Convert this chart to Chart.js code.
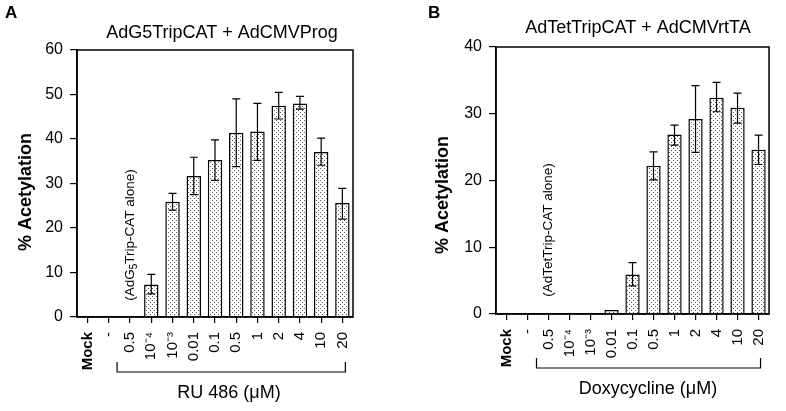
<!DOCTYPE html>
<html lang="en">
<head>
  <meta charset="utf-8">
  <title>Acetylation</title>
  <script src="https://cdn.jsdelivr.net/npm/chart.js@4.4.1/dist/chart.umd.min.js"></script>
  <style>
    body { margin: 0; background: #fff; }
    #wrap { position: relative; width: 786px; height: 411px; }
    canvas { position: absolute; top: 0; }
  </style>
</head>
<body>
  <div id="wrap">
    <canvas id="chartA" width="393" height="411" style="left:0"></canvas>
    <canvas id="chartB" width="393" height="411" style="left:393px"></canvas>
  </div>
  <script>
    // categories shared by both panels
    const categories = ['Mock', '-', '0.5', '10⁻⁴', '10⁻³', '0.01', '0.1', '0.5', '1', '2', '4', '10', '20'];

    // panel A: RU 486
    const ruValues  = [null, null, null, 7.3, 25.9, 31.7, 35.3, 41.4, 41.7, 47.5, 48.0, 37.1, 25.6];
    const ruErrHigh = [null, null, null, 9.6, 27.8, 35.9, 39.8, 49.0, 48.0, 50.5, 49.6, 40.2, 28.9];
    const ruErrLow  = [null, null, null, 5.2, 24.0, 27.5, 30.7, 33.8, 35.2, 44.5, 46.7, 34.1, 22.0];
    const ruTicks = [0, 10, 20, 30, 40, 50, 60];

    // panel B: doxycycline
    const doxValues  = [null, null, null, null, null, 0.6, 5.9, 22.2, 26.9, 29.2, 32.4, 30.9, 24.6];
    const doxErrHigh = [null, null, null, null, null, null, 7.7, 24.3, 28.3, 34.2, 34.7, 33.1, 26.8];
    const doxErrLow  = [null, null, null, null, null, null, 4.2, 20.1, 25.3, 24.2, 30.3, 28.6, 22.4];
    const doxTicks = [0, 10, 20, 30, 40];

    const F = '"Liberation Sans", Arial, Helvetica, sans-serif';

    // stippled fill like the printed figure
    function stipple() {
      const c = document.createElement('canvas');
      c.width = 4; c.height = 4;
      const g = c.getContext('2d');
      g.fillStyle = '#fff';
      g.fillRect(0, 0, 4, 4);
      g.fillStyle = '#555';
      g.fillRect(0, 0, 1, 1);
      g.fillRect(2, 2, 1, 1);
      return g.createPattern(c, 'repeat');
    }

    function makePanel(p) {
      const decor = {
        id: 'decor' + p.letter,
        afterDraw(chart) {
          const ctx = chart.ctx;
          const a = chart.chartArea;
          const x = chart.scales.x, y = chart.scales.y;
          ctx.save();
          ctx.strokeStyle = '#000';
          ctx.fillStyle = '#000';

          // box frame
          ctx.lineWidth = 1.5;
          ctx.strokeRect(a.left, a.top, a.right - a.left, a.bottom - a.top);

          // error bars
          ctx.lineWidth = 1.2;
          for (let i = 0; i < p.values.length; i++) {
            if (p.hi[i] == null) continue;
            const cx = x.getPixelForValue(i);
            const yh = y.getPixelForValue(p.hi[i]);
            const yl = y.getPixelForValue(p.lo[i]);
            ctx.beginPath();
            ctx.moveTo(cx, yh); ctx.lineTo(cx, yl);
            ctx.moveTo(cx - 4, yh); ctx.lineTo(cx + 4, yh);
            ctx.moveTo(cx - 4, yl); ctx.lineTo(cx + 4, yl);
            ctx.stroke();
          }

          // panel letter
          ctx.font = 'bold 17px ' + F;
          ctx.textAlign = 'left';
          ctx.textBaseline = 'alphabetic';
          ctx.fillText(p.letter, p.letterX, 18);

          // title
          ctx.font = '18px ' + F;
          ctx.textAlign = 'center';
          ctx.fillText(p.title, p.titleX, p.titleY);

          // y axis title
          ctx.save();
          ctx.translate(p.yTitleX, p.yTitleY);
          ctx.rotate(-Math.PI / 2);
          ctx.font = 'bold 18px ' + F;
          ctx.textBaseline = 'middle';
          ctx.fillText('% Acetylation', 0, 0);
          ctx.restore();

          // "alone" note, rotated, with optional subscript
          ctx.save();
          ctx.translate(x.getPixelForValue(2), p.aloneY);
          ctx.rotate(-Math.PI / 2);
          ctx.textBaseline = 'middle';
          ctx.textAlign = 'left';
          const big = '13.5px ' + F, small = '10px ' + F;
          ctx.font = big;
          let w = ctx.measureText(p.alone[0]).width + ctx.measureText(p.alone[2]).width;
          ctx.font = small;
          w += ctx.measureText(p.alone[1]).width;
          let tx = -w / 2;
          ctx.font = big;
          ctx.fillText(p.alone[0], tx, 0);
          tx += ctx.measureText(p.alone[0]).width;
          ctx.font = small;
          ctx.fillText(p.alone[1], tx, 4);
          tx += ctx.measureText(p.alone[1]).width;
          ctx.font = big;
          ctx.fillText(p.alone[2], tx, 0);
          ctx.restore();

          // bracket under the treated categories
          const bx0 = x.getPixelForValue(2) + p.bracketL;
          const bx1 = x.getPixelForValue(12) + p.bracketR;
          ctx.lineWidth = 1.2;
          ctx.beginPath();
          ctx.moveTo(bx0, p.bracketY - 10);
          ctx.lineTo(bx0, p.bracketY);
          ctx.lineTo(bx1, p.bracketY);
          ctx.lineTo(bx1, p.bracketY - 10);
          ctx.stroke();

          // x title
          ctx.font = '18px ' + F;
          ctx.textAlign = 'center';
          ctx.textBaseline = 'middle';
          ctx.fillText(p.xTitle, p.xTitleX, p.xTitleY);

          ctx.restore();
        }
      };

      return new Chart(document.getElementById(p.id), {
        type: 'bar',
        data: {
          labels: categories,
          datasets: [{
            data: p.values,
            backgroundColor: stipple(),
            borderColor: '#000',
            borderWidth: 1.5,
            barPercentage: 0.68,
            categoryPercentage: 1
          }]
        },
        options: {
          responsive: false,
          animation: false,
          devicePixelRatio: 1,
          layout: { padding: { left: 0, top: p.area.top, right: 393 - p.area.right, bottom: 0 } },
          plugins: { legend: { display: false }, tooltip: { enabled: false }, title: { display: false } },
          scales: {
            x: {
              grid: { display: true, drawOnChartArea: false, offset: false, tickLength: 6, color: '#000', lineWidth: 1.2 },
              border: { color: '#000', width: 1.5 },
              ticks: {
                color: '#000', autoSkip: false, minRotation: 90, maxRotation: 90, padding: 9,
                font: c => ({ family: F, size: 15, weight: c.index === 0 ? 'bold' : 'normal' })
              },
              afterFit: s => { s.height = 411 - p.area.bottom; }
            },
            y: {
              min: 0,
              max: p.ticks[p.ticks.length - 1],
              afterBuildTicks: s => { s.ticks = p.ticks.map(v => ({ value: v })); },
              grid: { drawOnChartArea: false, tickLength: 7, color: '#000', lineWidth: 1.2 },
              border: { color: '#000', width: 1.5 },
              ticks: { color: '#000', padding: 7, font: { family: F, size: 16 } },
              afterFit: s => { s.width = p.area.left; }
            }
          }
        },
        plugins: [decor]
      });
    }

    makePanel({
      id: 'chartA', letter: 'A',
      title: 'AdG5TripCAT + AdCMVProg', titleX: 222, titleY: 38,
      xTitle: 'RU 486 (\u03BCM)', xTitleX: 229, xTitleY: 393,
      values: ruValues, hi: ruErrHigh, lo: ruErrLow, ticks: ruTicks,
      area: { left: 77, top: 50, right: 353, bottom: 317 },
      letterX: 5, yTitleX: 26, yTitleY: 192,
      alone: ['(AdG', '5', 'Trip-CAT alone)'], aloneY: 235,
      bracketL: -13, bracketR: 3, bracketY: 372
    });

    makePanel({
      id: 'chartB', letter: 'B',
      title: 'AdTetTripCAT + AdCMVrtTA', titleX: 245, titleY: 33,
      xTitle: 'Doxycycline (\u03BCM)', xTitleX: 255, xTitleY: 389,
      values: doxValues, hi: doxErrHigh, lo: doxErrLow, ticks: doxTicks,
      area: { left: 103, top: 47, right: 381, bottom: 314 },
      letterX: 35, yTitleX: 50, yTitleY: 195,
      alone: ['(AdTetTrip-CAT alone)', '', ''], aloneY: 230,
      bracketL: -12, bracketR: 2, bracketY: 368
    });
  </script>
</body>
</html>
